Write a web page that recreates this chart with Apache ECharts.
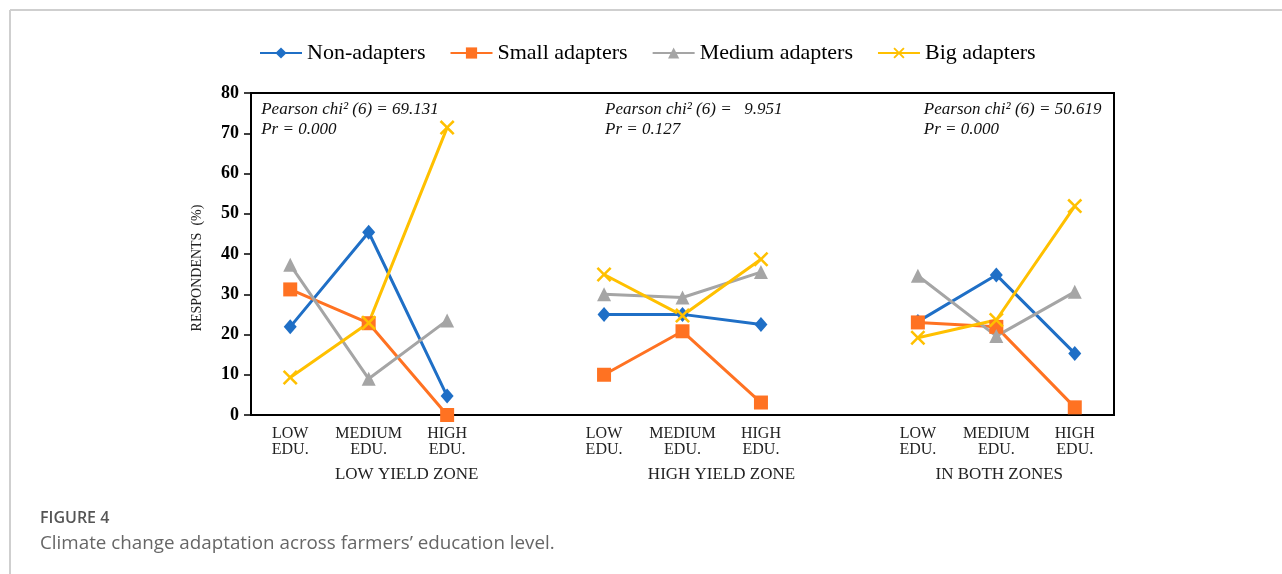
<!DOCTYPE html>
<html>
<head>
<meta charset="utf-8">
<script src="https://cdn.jsdelivr.net/npm/echarts@6/dist/echarts.min.js"></script>
<style>
  html, body { margin: 0; padding: 0; background: #fff; }
  #chart { width: 1282px; height: 574px; }
</style>
</head>
<body>
<div id="chart"></div>
<script>
// education levels inside each zone, and the zones
var eduLevels = ['LOW\nEDU.', 'MEDIUM\nEDU.', 'HIGH\nEDU.'];
var zoneNames = ['LOW YIELD ZONE', 'HIGH YIELD ZONE', 'IN BOTH ZONES'];

// respondents (%) per zone: [low edu, medium edu, high edu]
var nonAdapters    = [[21.9, 45.4, 4.7], [25.0, 25.0, 22.5], [23.2, 34.8, 15.3]];
var smallAdapters  = [[31.2, 22.8, 0.0], [10.0, 20.8, 3.1], [23.0, 21.9, 1.9]];
var mediumAdapters = [[37.3, 9.0, 23.5], [30.0, 29.2, 35.5], [34.6, 19.6, 30.6]];
var bigAdapters    = [[9.3, 22.9, 71.4], [34.9, 24.7, 38.7], [19.2, 23.6, 51.9]];

var chiNotes = [
  'Pearson chi\u00B2 (6) = 69.131\nPr = 0.000',
  'Pearson chi\u00B2 (6) =   9.951\nPr = 0.127',
  'Pearson chi\u00B2 (6) = 50.619\nPr = 0.000'
];

// the zone titles are not quite centred under the groups in the original
var zoneShift = [76, 78, 6];

// build the category axis: three groups with one empty slot between them
var categories = [];
var zoneAxis = [];
var gap = 0;
zoneNames.forEach(function (z, zi) {
  if (zi > 0) {
    gap++;
    categories.push(' '.repeat(gap));
    zoneAxis.push(' '.repeat(gap));
  }
  eduLevels.forEach(function (e, ei) {
    categories.push(e);
    if (ei === 1) {
      zoneAxis.push({ value: z, textStyle: { padding: [0, 0, 0, zoneShift[zi]] } });
    } else {
      zoneAxis.push('\u200B'.repeat(zi * 3 + ei + 1));
    }
  });
});

function flatten(groups) {
  var out = [];
  groups.forEach(function (g, i) {
    if (i > 0) out.push(null);
    g.forEach(function (v) { out.push(v); });
  });
  return out;
}

var serif = '"Liberation Serif", "Times New Roman", serif';
var xPath = 'path://M0,1.2L1.2,0L5,3.8L8.8,0L10,1.2L6.2,5L10,8.8L8.8,10L5,6.2L1.2,10L0,8.8L3.8,5Z';

function makeSeries(name, groups, color, symbol, size) {
  return {
    name: name,
    type: 'line',
    data: flatten(groups),
    connectNulls: false,
    symbol: symbol,
    symbolSize: size,
    showSymbol: true,
    lineStyle: { color: color, width: 3 },
    itemStyle: { color: color },
    emphasis: { disabled: true },
    animation: false
  };
}

var myChart = echarts.init(document.getElementById('chart'));

var option = {
  backgroundColor: '#fff',
  legend: {
    top: 37,
    left: 254,
    itemWidth: 42,
    itemHeight: 14,
    itemGap: 24,
    textStyle: { fontFamily: serif, fontSize: 22, color: '#000' },
    data: ['Non-adapters', 'Small adapters', 'Medium adapters', 'Big adapters']
  },
  grid: {
    left: 251,
    right: 168,
    top: 93,
    bottom: 159,
    show: true,
    borderColor: '#000',
    borderWidth: 2,
    containLabel: false
  },
  xAxis: [{
    type: 'category',
    data: categories,
    boundaryGap: true,
    axisLine: { lineStyle: { color: '#000', width: 2 } },
    axisTick: { show: false },
    axisLabel: {
      interval: 0,
      margin: 11,
      fontFamily: serif,
      fontSize: 16,
      lineHeight: 16,
      color: '#222'
    }
  }, {
    type: 'category',
    data: zoneAxis,
    position: 'bottom',
    offset: 43,
    boundaryGap: true,
    axisLine: { show: false },
    axisTick: { show: false },
    axisLabel: {
      interval: 0,
      margin: 8,
      fontFamily: serif,
      fontSize: 17,
      color: '#222'
    }
  }],
  yAxis: {
    type: 'value',
    min: 0,
    max: 80,
    interval: 10,
    name: 'RESPONDENTS  (%)',
    nameLocation: 'middle',
    nameGap: 47,
    nameTextStyle: { fontFamily: serif, fontSize: 14, color: '#222', padding: [0, 28, 0, 0] },
    axisLine: { show: true, lineStyle: { color: '#000', width: 2 } },
    axisTick: { show: true, length: 7, lineStyle: { color: '#000', width: 1.5 } },
    splitLine: { show: false },
    axisLabel: {
      margin: 12,
      fontFamily: serif,
      fontSize: 18,
      fontWeight: 'bold',
      color: '#000'
    }
  },
  series: [
    makeSeries('Non-adapters', nonAdapters, '#1F6FC6', 'diamond', [13, 15]),
    makeSeries('Small adapters', smallAdapters, '#FF7222', 'rect', 14),
    makeSeries('Medium adapters', mediumAdapters, '#A5A5A5', 'triangle', 14),
    makeSeries('Big adapters', bigAdapters, '#FFC000', xPath, 15)
  ],
  graphic: [
    { type: 'line', shape: { x1: 10, y1: 10, x2: 1282, y2: 10 }, style: { stroke: '#cfcfcf', lineWidth: 2 } },
    { type: 'line', shape: { x1: 10, y1: 10, x2: 10, y2: 574 }, style: { stroke: '#cfcfcf', lineWidth: 2 } },
    {
      type: 'text', left: 40, top: 510,
      style: { text: 'FIGURE 4', font: '600 16px "Open Sans", "Noto Sans", sans-serif', fill: '#555' }
    },
    {
      type: 'text', left: 40, top: 534,
      style: { text: 'Climate change adaptation across farmers\u2019 education level.', font: '18.8px "Open Sans", "Noto Sans", sans-serif', fill: '#666' }
    }
  ]
};

myChart.setOption(option);

// chi-square notes, placed relative to the first category of each zone
var noteShift = [-29, 1, 6];
var notes = chiNotes.map(function (t, i) {
  var px = myChart.convertToPixel({ xAxisIndex: 0 }, i * 4);
  return {
    type: 'text',
    x: px + noteShift[i],
    y: 100,
    style: {
      text: t,
      font: 'italic 17px ' + serif,
      fill: '#111',
      lineHeight: 20
    }
  };
});
myChart.setOption({ graphic: option.graphic.concat(notes) });
</script>
</body>
</html>
